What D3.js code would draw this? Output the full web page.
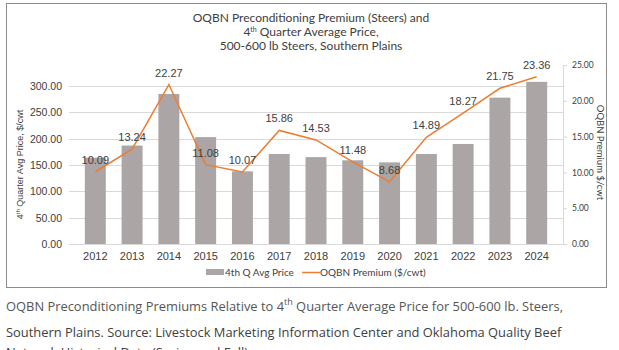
<!DOCTYPE html>
<html>
<head>
<meta charset="utf-8">
<script src="https://cdn.jsdelivr.net/npm/d3@7"></script>
<style>
  body { margin: 0; background: #fff; }
  svg text { fill: #404040; }
</style>
</head>
<body>
<script>
const years = ["2012", "2013", "2014", "2015", "2016", "2017", "2018", "2019", "2020", "2021", "2022", "2023", "2024"];
const avgPrice = [164, 187, 285, 203, 138, 171, 165, 159, 155, 171, 190, 278, 308];
const premium = [10.09, 13.24, 22.27, 11.08, 10.07, 15.86, 14.53, 11.48, 8.68, 14.89, 18.27, 21.75, 23.36];
const leftTicks = [0, 50, 100, 150, 200, 250, 300];
const rightTicks = [0, 5, 10, 15, 20, 25];

const totalWidth = 619;
const totalHeight = 350;
const plot = { left: 69, right: 563, top: 65, bottom: 244 };

const svg = d3.select("body")
  .append("svg")
  .attr("width", totalWidth)
  .attr("height", totalHeight);

// chart frame
svg.append("rect")
  .attr("x", 6.5).attr("y", 3.5)
  .attr("width", 600).attr("height", 284)
  .attr("fill", "#fff")
  .attr("stroke", "#8c8c8c");

const xScale = d3.scaleBand()
  .domain(years)
  .range([plot.left, plot.right])
  .padding(0.43);

const yLeft = d3.scaleLinear()
  .domain([0, 340])
  .range([plot.bottom, plot.top]);

const yRight = d3.scaleLinear()
  .domain([0, 25])
  .range([plot.bottom, plot.top]);

// gridlines
svg.append("g")
  .selectAll("line")
  .data(leftTicks)
  .enter()
  .append("line")
  .attr("x1", plot.left)
  .attr("x2", plot.right)
  .attr("y1", d => Math.round(yLeft(d)) + 0.5)
  .attr("y2", d => Math.round(yLeft(d)) + 0.5)
  .attr("stroke", "#d9d9d9");

// bars
svg.append("g")
  .selectAll("rect")
  .data(avgPrice)
  .enter()
  .append("rect")
  .attr("x", (d, i) => xScale(years[i]))
  .attr("y", d => yLeft(d))
  .attr("width", xScale.bandwidth())
  .attr("height", d => plot.bottom - yLeft(d))
  .attr("fill", "#aba5a5");

// left axis
const leftAxis = svg.append("g")
  .attr("transform", `translate(${plot.left}, 0)`)
  .call(d3.axisLeft(yLeft).tickValues(leftTicks).tickFormat(d3.format(".2f")).tickSize(0).tickPadding(7));
leftAxis.select(".domain").remove();
leftAxis.selectAll("text")
  .style("font-family", "'Liberation Sans', Arial, sans-serif")
  .style("font-size", "10.5px")
  .attr("fill", "#404040");

// right axis
const rightAxis = svg.append("g")
  .attr("transform", `translate(${plot.right}, 0)`)
  .call(d3.axisRight(yRight).tickValues(rightTicks).tickFormat(d3.format(".2f")).tickSize(4).tickPadding(5));
rightAxis.select(".domain").attr("stroke", "#d9d9d9").attr("d", `M0.5,${plot.top}V${plot.bottom}`);
rightAxis.selectAll(".tick line").attr("stroke", "#d9d9d9");
rightAxis.selectAll("text")
  .style("font-family", "Lato, sans-serif")
  .style("font-size", "8.5px")
  .attr("fill", "#404040");

// bottom axis
const bottomAxis = svg.append("g")
  .attr("transform", `translate(0, ${plot.bottom})`)
  .call(d3.axisBottom(xScale).tickSize(0).tickPadding(8));
bottomAxis.select(".domain").attr("stroke", "#d9d9d9").attr("d", `M${plot.left},0.5H${plot.right}`);
bottomAxis.selectAll("text")
  .style("font-family", "'Liberation Sans', Arial, sans-serif")
  .style("font-size", "11px")
  .attr("fill", "#262626");

// premium line
const line = d3.line()
  .x((d, i) => xScale(years[i]) + xScale.bandwidth() / 2)
  .y(d => yRight(d));

svg.append("path")
  .datum(premium)
  .attr("d", line)
  .attr("fill", "none")
  .attr("stroke", "#ed7d31")
  .attr("stroke-width", 1.5);

// data labels
svg.append("g")
  .selectAll("text")
  .data(premium)
  .enter()
  .append("text")
  .attr("x", (d, i) => xScale(years[i]) + xScale.bandwidth() / 2)
  .attr("y", d => yRight(d) - 8)
  .attr("text-anchor", "middle")
  .style("font-family", "'Liberation Sans', Arial, sans-serif")
  .style("font-size", "11px")
  .attr("fill", "#262626")
  .text(d => d3.format(".2f")(d));

// title
const title = svg.append("text")
  .attr("x", 311)
  .attr("text-anchor", "middle")
  .style("font-family", "Lato, sans-serif")
  .style("font-size", "12px");
title.append("tspan").attr("x", 311).attr("y", 22).text("OQBN Preconditioning Premium (Steers) and");
const t2 = title.append("tspan").attr("x", 311).attr("y", 36);
t2.append("tspan").text("4");
t2.append("tspan").attr("dy", -4).style("font-size", "7px").text("th");
t2.append("tspan").attr("dy", 4).text(" Quarter Average Price,");
title.append("tspan").attr("x", 311).attr("y", 50).text("500-600 lb Steers, Southern Plains");

// left axis title
const lt = svg.append("text")
  .attr("transform", `translate(23, ${(plot.top + plot.bottom) / 2 + 10}) rotate(-90)`)
  .attr("text-anchor", "middle")
  .style("font-family", "'Liberation Sans', Arial, sans-serif")
  .style("font-size", "9px");
lt.append("tspan").text("4");
lt.append("tspan").attr("dy", -3).style("font-size", "6px").text("th");
lt.append("tspan").attr("dy", 3).text(" Quarter Avg Price, $/cwt");

// right axis title
svg.append("text")
  .attr("transform", `translate(597, ${(plot.top + plot.bottom) / 2 - 2}) rotate(90)`)
  .attr("text-anchor", "middle")
  .style("font-family", "Lato, sans-serif")
  .style("font-size", "9.5px")
  .text("OQBN Premium $/cwt");

// legend
const legend = svg.append("g").attr("transform", "translate(206, 272)");
legend.append("rect")
  .attr("x", 0).attr("y", -3)
  .attr("width", 18).attr("height", 6)
  .attr("fill", "#aba5a5");
legend.append("text")
  .attr("x", 19).attr("y", 4)
  .style("font-family", "Lato, sans-serif")
  .style("font-size", "10px")
  .text("4th Q Avg Price");
legend.append("line")
  .attr("x1", 96).attr("x2", 114)
  .attr("y1", 0.5).attr("y2", 0.5)
  .attr("stroke", "#ed7d31")
  .attr("stroke-width", 1.5);
legend.append("text")
  .attr("x", 114).attr("y", 4)
  .style("font-family", "Lato, sans-serif")
  .style("font-size", "10px")
  .text("OQBN Premium ($/cwt)");

// caption
const cap = svg.append("g")
  .style("font-family", "'Open Sans', sans-serif")
  .style("font-size", "12.9px");
const c1 = cap.append("text").attr("x", 6).attr("y", 311).attr("fill", "#555");
c1.append("tspan").attr("fill", "#555").text("OQBN Preconditioning Premiums Relative to 4");
c1.append("tspan").attr("fill", "#555").attr("dy", -6).style("font-size", "9px").text("th");
c1.append("tspan").attr("fill", "#555").attr("dy", 6).text(" Quarter Average Price for 500-600 lb. Steers,");
cap.append("text").attr("x", 6).attr("y", 337).attr("fill", "#555")
  .text("Southern Plains. Source: Livestock Marketing Information Center and Oklahoma Quality Beef");
cap.append("text").attr("x", 6).attr("y", 357).attr("fill", "#555")
  .text("Network Historical Data (Spring and Fall).");
</script>
</body>
</html>
